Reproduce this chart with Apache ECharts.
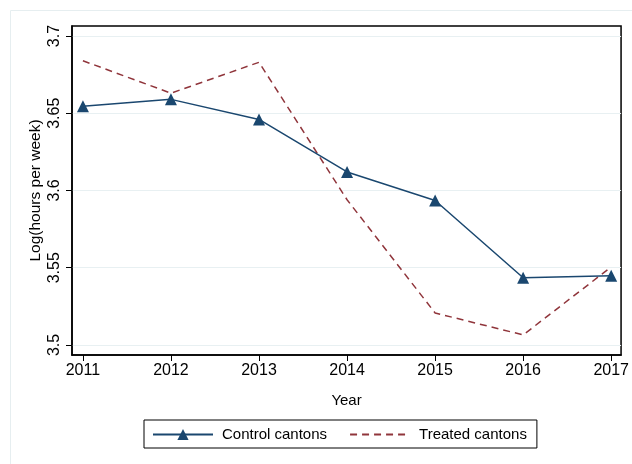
<!DOCTYPE html>
<html>
<head>
<meta charset="utf-8">
<script src="https://cdn.jsdelivr.net/npm/echarts@6/dist/echarts.min.js"></script>
<style>
  html, body { margin: 0; padding: 0; background: #fff; }
  #chart { width: 632px; height: 464px; }
</style>
</head>
<body>
<div id="chart"></div>
<script>
// years on the x axis
const years = [2011, 2012, 2013, 2014, 2015, 2016, 2017];
// log(hours per week)
const controlValues = [3.6545, 3.659, 3.646, 3.612, 3.5935, 3.5435, 3.5448];
const treatedValues = [3.684, 3.663, 3.683, 3.594, 3.5207, 3.5065, 3.5505];
const yTicks = [3.5, 3.55, 3.6, 3.65, 3.7];

const chart = echarts.init(document.getElementById("chart"));
const font = "Liberation Sans, Arial, Helvetica, sans-serif";

const option = {
  backgroundColor: "#ffffff",
  animation: false,
  textStyle: { fontFamily: font, color: "#000" },
  graphic: [
    {
      type: "rect",
      shape: { x: 10.5, y: 10.5, width: 640, height: 470 },
      style: { fill: "none", stroke: "#e6eef0", lineWidth: 1 },
      z: -1,
    },
  ],
  grid: {
    left: 72,
    right: 5,
    top: 26,
    bottom: 109,
    show: true,
    borderColor: "#000",
    borderWidth: 1.5,
  },
  xAxis: {
    type: "value",
    min: 2010.876,
    max: 2017.112,
    name: "Year",
    nameLocation: "middle",
    nameGap: 38,
    nameMoveOverlap: false,
    nameTextStyle: { fontSize: 15, color: "#000", fontFamily: font },
    axisLine: { show: true, onZero: false, lineStyle: { color: "#000", width: 1.5 } },
    axisTick: { show: true, length: 6, customValues: years, lineStyle: { color: "#000" } },
    axisLabel: {
      customValues: years,
      fontSize: 16,
      color: "#000",
      margin: 8,
      formatter: (v) => String(v),
    },
    splitLine: { show: false },
  },
  yAxis: {
    type: "value",
    min: 3.4935,
    max: 3.7065,
    name: "Log(hours per week)",
    nameLocation: "middle",
    nameGap: 28,
    nameMoveOverlap: false,
    nameRotate: 90,
    nameTextStyle: { fontSize: 15.5, color: "#000", fontFamily: font },
    axisLine: { show: true, onZero: false, lineStyle: { color: "#000", width: 1.5 } },
    axisTick: { show: true, length: 6, customValues: yTicks, lineStyle: { color: "#000" } },
    axisLabel: {
      customValues: yTicks,
      fontSize: 16,
      color: "#000",
      rotate: 90,
      margin: 9,
      formatter: (v) => String(Math.round(v * 100) / 100),
    },
    splitLine: { show: true, lineStyle: { color: "#e8f0f2", width: 1.2 } },
  },
  legend: {
    left: 144,
    top: 420,
    width: 412,
    height: 29,
    padding: [7, 10, 6, 8],
    itemGap: 22,
    itemWidth: 60,
    itemHeight: 14,
    borderColor: "#000",
    borderWidth: 1,
    textStyle: { fontSize: 15, color: "#000", fontFamily: font, padding: [0, 0, 0, 4] },
    data: [
      { name: "Control cantons" },
      { name: "Treated cantons", itemStyle: { opacity: 0 } },
    ],
  },
  series: [
    {
      name: "Control cantons",
      type: "line",
      data: years.map((y, i) => [y, controlValues[i]]),
      symbol: "triangle",
      symbolSize: 12,
      itemStyle: { color: "#1a476f" },
      lineStyle: { color: "#1a476f", width: 1.5 },
      z: 3,
    },
    {
      name: "Treated cantons",
      type: "line",
      data: years.map((y, i) => [y, treatedValues[i]]),
      symbol: "none",
      itemStyle: { color: "#90353b" },
      lineStyle: { color: "#90353b", width: 1.5, type: [7, 5] },
      z: 2,
    },
  ],
};

chart.setOption(option);
</script>
</body>
</html>
